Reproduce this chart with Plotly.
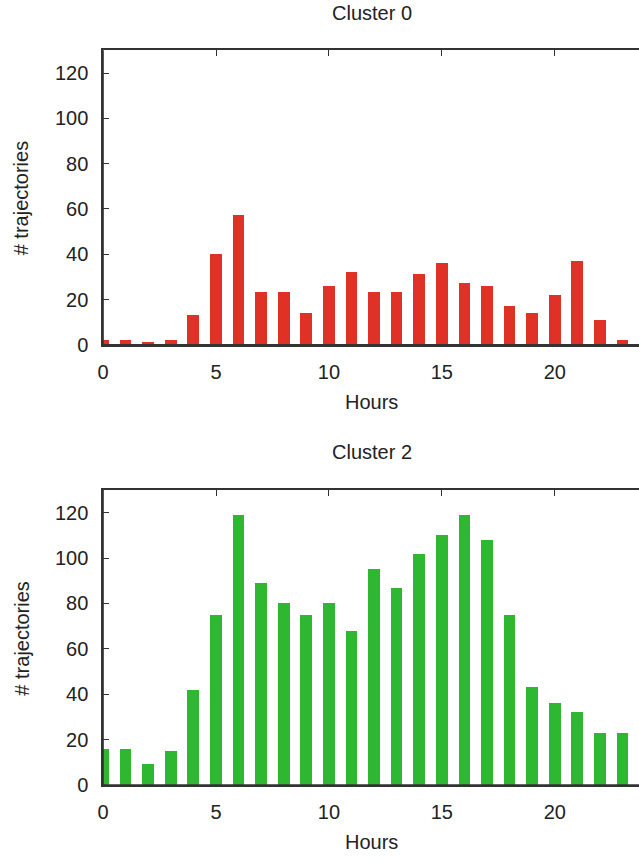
import plotly.graph_objects as go

hours = list(range(24))
cluster0 = [2, 2, 1, 2, 13, 40, 57, 23, 23, 14, 26, 32, 23, 23, 31, 36, 27, 26, 17, 14, 22, 37, 11, 2]
cluster2 = [16, 16, 9, 15, 42, 75, 119, 89, 80, 75, 80, 68, 95, 87, 102, 110, 119, 108, 75, 43, 36, 32, 23, 23]
titles = ["Cluster 0", "Cluster 2"]
x_title = "Hours"
y_title = "# trajectories"
y_ticks = [0, 20, 40, 60, 80, 100, 120]
x_ticks = [0, 5, 10, 15, 20]

W, H = 639, 866
FONT = "Liberation Sans, Arial, sans-serif"
TXT = "#222222"
AX = "#333333"

fig = go.Figure()
fig.add_trace(go.Bar(x=hours, y=cluster0, width=0.52, marker=dict(color="#e03127", line=dict(width=0)),
                     xaxis="x", yaxis="y", showlegend=False))
fig.add_trace(go.Bar(x=hours, y=cluster2, width=0.52, marker=dict(color="#2eb832", line=dict(width=0)),
                     xaxis="x2", yaxis="y2", showlegend=False))

left = 98 / W
x_range = [0, (W - 98) / 22.8]
doms = [[(H - 349.3) / H, (H - 51) / H], [(H - 795) / H, (H - 496.3) / H]]

def xax(anchor):
    return dict(domain=[left, 1], range=x_range, anchor=anchor, tickvals=x_ticks,
                ticks="inside", ticklen=6, tickwidth=1, tickcolor=AX,
                showline=True, linecolor=AX, linewidth=1.5, mirror="ticks",
                showgrid=False, zeroline=False, layer="below traces",
                tickfont=dict(family=FONT, size=20, color=TXT), ticklabelstandoff=8)

def yax(anchor, dom):
    return dict(domain=dom, range=[0, 130], anchor=anchor, tickvals=y_ticks,
                ticks="inside", ticklen=6, tickwidth=1, tickcolor=AX,
                showline=True, linecolor=AX, linewidth=1.5, mirror=False,
                showgrid=False, zeroline=False, layer="below traces",
                tickfont=dict(family=FONT, size=20, color=TXT), ticklabelstandoff=9)

fig.update_layout(
    width=W, height=H, margin=dict(l=0, r=0, t=0, b=0),
    paper_bgcolor="white", plot_bgcolor="white", bargap=0,
    xaxis=xax("y"), yaxis=yax("x", doms[0]),
    xaxis2=xax("y2"), yaxis2=yax("x2", doms[1]),
    font=dict(family=FONT, size=20, color=TXT),
)

# baseline/left lines drawn above bars
shapes = []
for xr, yr in [("x domain", "y domain"), ("x2 domain", "y2 domain")]:
    shapes.append(dict(type="line", xref=xr, yref=yr, x0=0, x1=1, y0=0, y1=0,
                       line=dict(color=AX, width=1.5), layer="above"))
    shapes.append(dict(type="line", xref=xr, yref=yr, x0=0, x1=0, y0=0, y1=1,
                       line=dict(color=AX, width=1.5), layer="above"))
fig.update_layout(shapes=shapes)

cx = (98 + 640) / 2 / W
ann = []
for i, (t_y, h_y, yt_y) in enumerate([(13, 407, 200), (458, 853, 646)]):
    ann.append(dict(text=titles[i], x=cx, y=1 - t_y / H, xref="paper", yref="paper",
                    xanchor="center", yanchor="middle", showarrow=False,
                    font=dict(family=FONT, size=20, color=TXT)))
    ann.append(dict(text=x_title, x=cx, y=1 - h_y / H, xref="paper", yref="paper",
                    xanchor="center", yanchor="middle", showarrow=False,
                    font=dict(family=FONT, size=20, color=TXT)))
    ann.append(dict(text=y_title, x=16 / W, y=1 - yt_y / H, xref="paper", yref="paper",
                    xanchor="center", yanchor="middle", showarrow=False, textangle=-90,
                    font=dict(family=FONT, size=20, color=TXT)))
fig.update_layout(annotations=ann)

fig.write_html("out.html")
